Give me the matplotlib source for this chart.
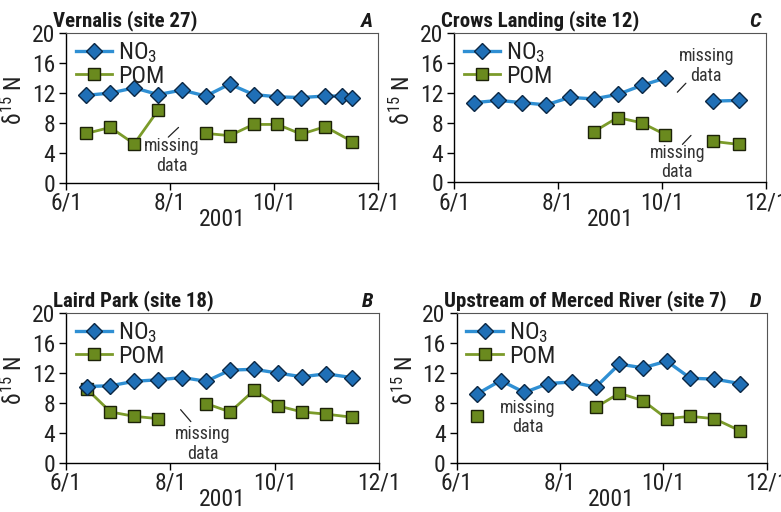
import numpy as np
import matplotlib
matplotlib.use("Agg")
import matplotlib.pyplot as plt
from datetime import date

FONT = ["Roboto Condensed", "Roboto", "DejaVu Sans"]
plt.rcParams["font.family"] = FONT
plt.rcParams["mathtext.fontset"] = "custom"
plt.rcParams["mathtext.rm"] = "Roboto Condensed"
plt.rcParams["mathtext.it"] = "Roboto Condensed:italic"

def d(s):
    m, dd = s.split("/")
    return date(2001, int(m), int(dd))

nan = np.nan

# Sampling dates (2001) and values of delta 15N for each site
vern_no3_dates = ["6/13", "6/27", "7/11", "7/25", "8/8", "8/22", "9/5", "9/19",
                  "10/3", "10/17", "10/31", "11/10", "11/16"]
vern_no3 = [11.7, 12.0, 12.7, 11.8, 12.4, 11.6, 13.2, 11.8, 11.5, 11.4, 11.6, 11.6, 11.4]
vern_pom_dates = ["6/13", "6/27", "7/11", "7/25", "8/8", "8/22", "9/5", "9/19",
                  "10/3", "10/17", "10/31", "11/16"]
vern_pom = [6.6, 7.4, 5.2, 9.7, nan, 6.6, 6.3, 7.8, 7.8, 6.5, 7.5, 5.5]

crows_no3_dates = ["6/13", "6/27", "7/11", "7/25", "8/8", "8/22", "9/5", "9/19",
                   "10/3", "10/17", "10/31", "11/15"]
crows_no3 = [10.7, 11.0, 10.7, 10.4, 11.4, 11.2, 11.8, 13.0, 14.0, nan, 10.9, 11.0]
crows_pom_dates = ["8/22", "9/5", "9/19", "10/3", "10/17", "10/31", "11/15"]
crows_pom = [6.8, 8.7, 8.0, 6.4, nan, 5.5, 5.1]

laird_no3_dates = ["6/13", "6/27", "7/11", "7/25", "8/8", "8/22", "9/5", "9/19",
                   "10/3", "10/17", "10/31", "11/15"]
laird_no3 = [10.2, 10.3, 10.9, 11.1, 11.4, 10.9, 12.4, 12.5, 12.0, 11.5, 11.9, 11.4]
laird_pom_dates = laird_no3_dates
laird_pom = [9.9, 6.8, 6.2, 5.9, nan, 7.9, 6.8, 9.7, 7.6, 6.8, 6.5, 6.1]

merced_no3_dates = laird_no3_dates
merced_no3 = [9.2, 11.0, 9.4, 10.6, 10.8, 10.1, 13.2, 12.7, 13.6, 11.3, 11.2, 10.6]
merced_pom_dates = ["6/13", "6/27", "8/22", "9/5", "9/19", "10/3", "10/17", "10/31", "11/15"]
merced_pom = [6.2, nan, 7.4, 9.3, 8.3, 5.9, 6.2, 5.9, 4.3]

tick_dates = ["6/1", "8/1", "10/1", "12/1"]
y_ticks = [0, 4, 8, 12, 16, 20]

NO3_FILL, NO3_EDGE, NO3_LINE = "#1f6fb6", "#0b2744", "#2f8fd3"
POM_FILL, POM_EDGE, POM_LINE = "#6a8a1e", "#1c2208", "#7b9b2a"

W, H = 781, 512
fig = plt.figure(figsize=(W / 100, H / 100), dpi=100)

def axes_px(left, top, right, bottom):
    return fig.add_axes([left / W, 1 - bottom / H, (right - left) / W, (bottom - top) / H])

panels = [
    dict(box=(66, 33.3, 378, 182.7), title="Vernalis (site 27)", letter="A",
         no3=(vern_no3_dates, vern_no3), pom=(vern_pom_dates, vern_pom)),
    dict(box=(454, 33.3, 766, 182.4), title="Crows Landing (site 12)", letter="C",
         no3=(crows_no3_dates, crows_no3), pom=(crows_pom_dates, crows_pom)),
    dict(box=(66, 313.3, 379, 462.7), title="Laird Park (site 18)", letter="B",
         no3=(laird_no3_dates, laird_no3), pom=(laird_pom_dates, laird_pom)),
    dict(box=(456.7, 313.3, 766.7, 462.7), title="Upstream of Merced River (site 7)", letter="D",
         no3=(merced_no3_dates, merced_no3), pom=(merced_pom_dates, merced_pom)),
]

TXT = "#222222"
axes = []
for p in panels:
    ax = axes_px(*p["box"])
    axes.append(ax)
    nd, nv = p["no3"]
    pd_, pv = p["pom"]
    ax.plot([d(s) for s in nd], nv, color=NO3_LINE, lw=2.4, marker="D", ms=8.6,
            mfc=NO3_FILL, mec=NO3_EDGE, mew=1.0, label="NO$_3$", zorder=3)
    ax.plot([d(s) for s in pd_], pv, color=POM_LINE, lw=2.0, marker="s", ms=9.0,
            mfc=POM_FILL, mec=POM_EDGE, mew=1.0, label="POM", zorder=2)

    ax.set_xlim(d("6/1"), d("12/1"))
    ax.set_ylim(0, 20)
    ax.set_xticks([d(s) for s in tick_dates])
    ax.set_xticklabels(tick_dates)
    ax.set_yticks(y_ticks)
    ax.tick_params(axis="both", direction="out", length=5, width=1.0,
                   labelsize=17, color="black", labelcolor=TXT)
    ax.tick_params(axis="x", pad=1.5)
    ax.tick_params(axis="y", pad=3)
    for side in ("left", "bottom"):
        ax.spines[side].set_color("black")
        ax.spines[side].set_linewidth(1.0)
    for side in ("top", "right"):
        ax.spines[side].set_color("#555555")
        ax.spines[side].set_linewidth(0.8)

    ax.set_xlabel("2001", fontsize=17, color=TXT, labelpad=-4.5)
    ax.set_ylabel(r"$\mathregular{\delta^{15}}$ N", fontsize=17, color=TXT, labelpad=2)
    ax.yaxis.set_label_coords(-0.125, 0.55)

    ax.text(-0.042, 1.045, p["title"], transform=ax.transAxes, fontsize=15,
            fontweight="bold", ha="left", va="baseline", color="#1a1a1a")
    ax.text(0.983, 1.045, p["letter"], transform=ax.transAxes, fontsize=15,
            fontweight="bold", style="italic", ha="right", va="baseline", color="#1a1a1a")

    leg = ax.legend(loc="upper left", frameon=False, fontsize=17.5, handlelength=1.5,
                    handletextpad=0.25, labelspacing=0.0, borderaxespad=0.0,
                    bbox_to_anchor=(0.0, 1.02))
    for t in leg.get_texts():
        t.set_color(TXT)

NOTE = dict(fontsize=13, color="#333333", ha="center", va="center", linespacing=1.1)
LINE = dict(arrowstyle="-", color="#222222", lw=0.9, shrinkA=0, shrinkB=0)

axA, axC, axB, axD = axes

# Vernalis
axA.text(d("8/2"), 3.6, "missing\ndata", **NOTE)
axA.annotate("", xy=(d("8/6"), 7.4), xytext=(d("7/31"), 6.1), arrowprops=LINE)

# Crows Landing
axC.text(d("10/27"), 15.6, "missing\ndata", **NOTE)
axC.annotate("", xy=(d("10/15"), 13.3), xytext=(d("10/10"), 12.1), arrowprops=LINE)
axC.text(d("10/10"), 2.7, "missing\ndata", **NOTE)
axC.annotate("", xy=(d("10/18"), 6.3), xytext=(d("10/13"), 5.1), arrowprops=LINE)

# Laird Park
axB.text(d("8/20"), 2.5, "missing\ndata", **NOTE)
axB.annotate("", xy=(d("8/13"), 5.5), xytext=(d("8/7"), 7.1), arrowprops=LINE)

# Upstream of Merced River
axD.text(d("7/13"), 6.05, "missing\ndata", **NOTE)

fig.savefig("out.png", dpi=100)
